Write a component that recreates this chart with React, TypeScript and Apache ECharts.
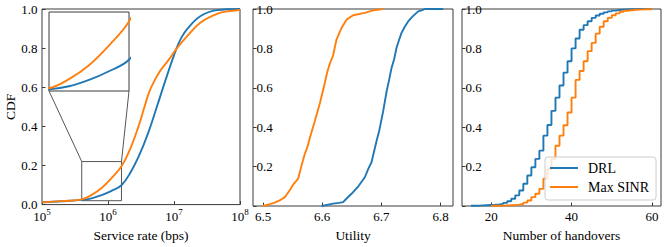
import React, { useEffect, useRef } from "react";
import * as echarts from "echarts";

// ---------- data ----------
const seriesNames = ["DRL", "Max SINR"];

// Service rate CDF (bps, CDF)
const drlRate: [number, number][] = [
  [1e5, 0.012], [2e5, 0.017], [4e5, 0.024], [5.66e5, 0.032], [8e5, 0.048],
  [1.13e6, 0.07], [1.6e6, 0.099], [2.2e6, 0.165], [3e6, 0.255], [4e6, 0.36],
  [5.5e6, 0.5], [7.5e6, 0.64], [1.08e7, 0.795], [1.3e7, 0.855], [1.57e7, 0.896],
  [2.5e7, 0.963], [4.5e7, 0.994], [1e8, 1.0],
];
const maxSinrRate: [number, number][] = [
  [1e5, 0.012], [2e5, 0.018], [4e5, 0.027], [5.66e5, 0.05], [8e5, 0.085],
  [1.13e6, 0.135], [1.6e6, 0.196], [2.2e6, 0.29], [2.9e6, 0.4], [3.5e6, 0.49],
  [4.2e6, 0.575], [5e6, 0.63], [6.2e6, 0.685], [8.3e6, 0.74], [1.08e7, 0.795],
  [1.57e7, 0.86], [2.5e7, 0.93], [4.5e7, 0.975], [7e7, 0.99], [1e8, 0.995],
];

// Utility CDF
const drlUtility: [number, number][] = [
  [6.5988, 0.0], [6.608, 0.006], [6.6184, 0.012], [6.628, 0.016], [6.6353, 0.02],
  [6.6425, 0.042], [6.6495, 0.062], [6.661, 0.1], [6.672, 0.146], [6.678, 0.19],
  [6.6833, 0.222], [6.6918, 0.33], [6.6965, 0.385], [6.7002, 0.44], [6.7029, 0.48],
  [6.7058, 0.53], [6.7087, 0.58], [6.713, 0.64], [6.7171, 0.7], [6.7215, 0.745],
  [6.7256, 0.803], [6.7295, 0.84], [6.734, 0.879], [6.7395, 0.91], [6.7452, 0.937],
  [6.752, 0.96], [6.7621, 0.988], [6.768, 0.993], [6.7735, 1.0], [6.8044, 1.0],
];
const maxSinrUtility: [number, number][] = [
  [6.4995, 0.0], [6.51, 0.008], [6.5198, 0.017], [6.528, 0.028], [6.5367, 0.045],
  [6.544, 0.075], [6.5507, 0.108], [6.5592, 0.138], [6.565, 0.205], [6.5705, 0.264],
  [6.575, 0.3], [6.579, 0.345], [6.5874, 0.43], [6.5959, 0.52], [6.6044, 0.626],
  [6.6085, 0.68], [6.6128, 0.722], [6.6184, 0.765], [6.6241, 0.845], [6.6326, 0.904],
  [6.641, 0.946], [6.6522, 0.968], [6.672, 0.98], [6.686, 0.993], [6.703, 1.0],
];

// Number of handovers CDF (step)
const drlHandovers = [
  15, 16, 17, 18, 19, 20, 21, 22, 23, 24, 25, 26, 27, 28, 29, 30, 31, 32, 33, 34,
  35, 36, 37, 38, 39, 40, 41, 42, 43, 44, 45, 46, 47, 48, 49, 50, 51, 52, 53, 54,
  55, 56, 57, 58, 59, 60,
];
const drlHandoverCdf = [
  0.001, 0.002, 0.003, 0.004, 0.005, 0.006, 0.008, 0.011, 0.016, 0.024, 0.037,
  0.054, 0.079, 0.113, 0.155, 0.197, 0.239, 0.281, 0.357, 0.411, 0.483, 0.55,
  0.612, 0.677, 0.735, 0.8, 0.85, 0.895, 0.918, 0.938, 0.955, 0.967, 0.976,
  0.983, 0.988, 0.992, 0.995, 0.997, 0.998, 0.999, 0.999, 1.0, 1.0, 1.0, 1.0, 1.0,
];
const maxSinrHandovers = [
  20, 21, 22, 23, 24, 25, 26, 27, 28, 29, 30, 31, 32, 33, 34, 35, 36, 37, 38, 39,
  40, 41, 42, 43, 44, 45, 46, 47, 48, 49, 50, 51, 52, 53, 54, 55, 56, 57, 58, 59, 60,
];
const maxSinrHandoverCdf = [
  0.001, 0.001, 0.002, 0.003, 0.004, 0.005, 0.007, 0.01, 0.017, 0.028, 0.045,
  0.062, 0.087, 0.138, 0.188, 0.239, 0.306, 0.357, 0.41, 0.475, 0.55, 0.64,
  0.685, 0.735, 0.786, 0.828, 0.875, 0.91, 0.938, 0.955, 0.968, 0.978, 0.986,
  0.991, 0.994, 0.996, 0.997, 0.998, 0.999, 0.999, 1.0,
];

// axis ranges / ticks
const rateTicks = [1e5, 1e6, 1e7, 1e8];
const utilityTicks = [6.5, 6.6, 6.7, 6.8];
const handoverTicks = [20, 40, 60];
const zoomX = [4e5, 1.6e6];
const zoomY = [0.02, 0.22];

const BLUE = "#1f77b4";
const ORANGE = "#ff7f0e";
const FONT = "Liberation Serif";
const EDGE = "#3a3a3a";

export default function App() {
  const ref = useRef<HTMLDivElement>(null);

  useEffect(() => {
    if (!ref.current) return;
    const chart = echarts.init(ref.current, undefined, { renderer: "svg" });

    const grid = (left: number, width: number, extra: any = {}) => ({
      left, top: 9, width, height: 198, show: true,
      borderColor: EDGE, borderWidth: 1, backgroundColor: "transparent",
      ...extra,
    });

    const tick = { show: true, inside: true, length: 3.5, lineStyle: { color: EDGE, width: 1 } };
    const lbl = { fontFamily: FONT, fontSize: 13, color: "#000" };
    const nameStyle = { fontFamily: FONT, fontSize: 13.5, color: "#000" };

    const cdfYInside = (gi: number) => ({
      type: "value", gridIndex: gi, min: 0, max: 1, interval: 0.2,
      axisLine: { show: false }, splitLine: { show: false },
      axisTick: tick,
      axisLabel: {
        ...lbl, inside: true, margin: 3.5, verticalAlign: "middle",
        padding: [9, 0, 0, 0],
        formatter: (v: number) => (v === 0 ? "" : v.toFixed(1)),
      },
    });

    const lineBase = {
      type: "line", showSymbol: false, symbol: "none",
      lineStyle: { width: 1.9 }, emphasis: { disabled: true },
    };

    chart.setOption({
      animation: false,
      textStyle: { fontFamily: FONT },
      grid: [
        grid(42, 198),
        grid(253, 200),
        grid(462, 199),
        { left: 49, top: 12, width: 80, height: 79, show: true, borderColor: EDGE, borderWidth: 1, backgroundColor: "#fff" },
      ],
      xAxis: [
        {
          type: "log", logBase: 10, gridIndex: 0, min: 1e5, max: 1e8,
          name: "Service rate (bps)", nameLocation: "middle", nameGap: 22, nameTextStyle: nameStyle,
          axisLine: { show: false }, splitLine: { show: false }, minorTick: { show: false },
          axisTick: { ...tick, customValues: rateTicks },
          axisLabel: {
            customValues: rateTicks, margin: 3,
            formatter: (v: number) => `{b|10}{s|${Math.round(Math.log10(v))}}`,
            rich: {
              b: { ...lbl, lineHeight: 18, verticalAlign: "middle" },
              s: { fontFamily: FONT, fontSize: 9, color: "#000", verticalAlign: "top", lineHeight: 18 },
            },
          },
        },
        {
          type: "value", gridIndex: 1, min: 6.483, max: 6.821,
          name: "Utility", nameLocation: "middle", nameGap: 22, nameTextStyle: nameStyle,
          axisLine: { show: false }, splitLine: { show: false },
          axisTick: { ...tick, customValues: utilityTicks },
          axisLabel: { ...lbl, margin: 3.5, customValues: utilityTicks, formatter: (v: number) => v.toFixed(1) },
        },
        {
          type: "value", gridIndex: 2, min: 12.75, max: 62.25,
          name: "Number of handovers", nameLocation: "middle", nameGap: 22, nameTextStyle: nameStyle,
          axisLine: { show: false }, splitLine: { show: false },
          axisTick: { ...tick, customValues: handoverTicks },
          axisLabel: { ...lbl, margin: 3.5, customValues: handoverTicks },
        },
        {
          type: "log", logBase: 10, gridIndex: 3, min: zoomX[0], max: zoomX[1],
          axisLine: { show: false }, splitLine: { show: false }, axisTick: { show: false },
          axisLabel: { show: false }, minorTick: { show: false },
        },
      ],
      yAxis: [
        {
          type: "value", gridIndex: 0, min: 0, max: 1, interval: 0.2,
          name: "CDF", nameLocation: "middle", nameGap: 25, nameTextStyle: nameStyle,
          axisLine: { show: false }, splitLine: { show: false },
          axisTick: tick,
          axisLabel: { ...lbl, margin: 4.4, formatter: (v: number) => v.toFixed(1) },
        },
        cdfYInside(1),
        cdfYInside(2),
        {
          type: "value", gridIndex: 3, min: zoomY[0], max: zoomY[1],
          axisLine: { show: false }, splitLine: { show: false }, axisTick: { show: false },
          axisLabel: { show: false },
        },
      ],
      legend: {
        data: seriesNames,
        orient: "vertical",
        left: 545, top: 157,
        padding: [3, 7, 5, 5],
        itemGap: 3,
        itemWidth: 28, itemHeight: 2,
        icon: "rect",
        backgroundColor: "rgba(255,255,255,0.8)",
        borderColor: "#cccccc", borderWidth: 1, borderRadius: 3,
        textStyle: { fontFamily: FONT, fontSize: 14, color: "#000", lineHeight: 16, padding: [0, 0, 0, 5] },
        selectedMode: false,
      },
      series: [
        { ...lineBase, name: seriesNames[0], xAxisIndex: 0, yAxisIndex: 0, data: drlRate, smooth: 0.4, color: BLUE },
        { ...lineBase, name: seriesNames[1], xAxisIndex: 0, yAxisIndex: 0, data: maxSinrRate, smooth: 0.4, color: ORANGE },
        { ...lineBase, name: seriesNames[0], xAxisIndex: 1, yAxisIndex: 1, data: drlUtility, color: BLUE },
        { ...lineBase, name: seriesNames[1], xAxisIndex: 1, yAxisIndex: 1, data: maxSinrUtility, color: ORANGE },
        {
          ...lineBase, name: seriesNames[0], xAxisIndex: 2, yAxisIndex: 2, step: "end", color: BLUE,
          data: drlHandovers.map((x, i) => [x, drlHandoverCdf[i]]),
        },
        {
          ...lineBase, name: seriesNames[1], xAxisIndex: 2, yAxisIndex: 2, step: "end", color: ORANGE,
          data: maxSinrHandovers.map((x, i) => [x, maxSinrHandoverCdf[i]]),
        },
        { ...lineBase, name: seriesNames[0], xAxisIndex: 3, yAxisIndex: 3, data: drlRate, smooth: 0.4, clip: true, color: BLUE },
        { ...lineBase, name: seriesNames[1], xAxisIndex: 3, yAxisIndex: 3, data: maxSinrRate, smooth: 0.4, clip: true, color: ORANGE },
      ],
    });

    // zoom box and connector lines, positioned through the axes
    const insetBL = chart.convertToPixel({ gridIndex: 3 } as any, [zoomX[0], zoomY[0]]) as number[];
    const insetBR = chart.convertToPixel({ gridIndex: 3 } as any, [zoomX[1], zoomY[0]]) as number[];
    const boxTL = chart.convertToPixel({ gridIndex: 0 } as any, [zoomX[0], zoomY[1]]) as number[];
    const boxTR = chart.convertToPixel({ gridIndex: 0 } as any, [zoomX[1], zoomY[1]]) as number[];
    const boxBL = chart.convertToPixel({ gridIndex: 0 } as any, [zoomX[0], zoomY[0]]) as number[];
    const stroke = { stroke: "#555", lineWidth: 1, fill: null };
    chart.setOption({
      graphic: [
        {
          type: "rect", z: 1, silent: true,
          shape: { x: boxTL[0], y: boxTL[1], width: boxTR[0] - boxTL[0], height: boxBL[1] - boxTL[1] },
          style: { ...stroke, fill: "transparent" },
        },
        { type: "line", z: 1, silent: true, shape: { x1: insetBL[0], y1: insetBL[1], x2: boxTL[0], y2: boxTL[1] }, style: stroke },
        { type: "line", z: 1, silent: true, shape: { x1: insetBR[0], y1: insetBR[1], x2: boxTR[0], y2: boxTR[1] }, style: stroke },
      ],
    });

    return () => chart.dispose();
  }, []);

  return (
    <div
      ref={ref}
      style={{ position: "fixed", left: 0, top: 0, width: 664, height: 247, background: "#fff" }}
    />
  );
}
